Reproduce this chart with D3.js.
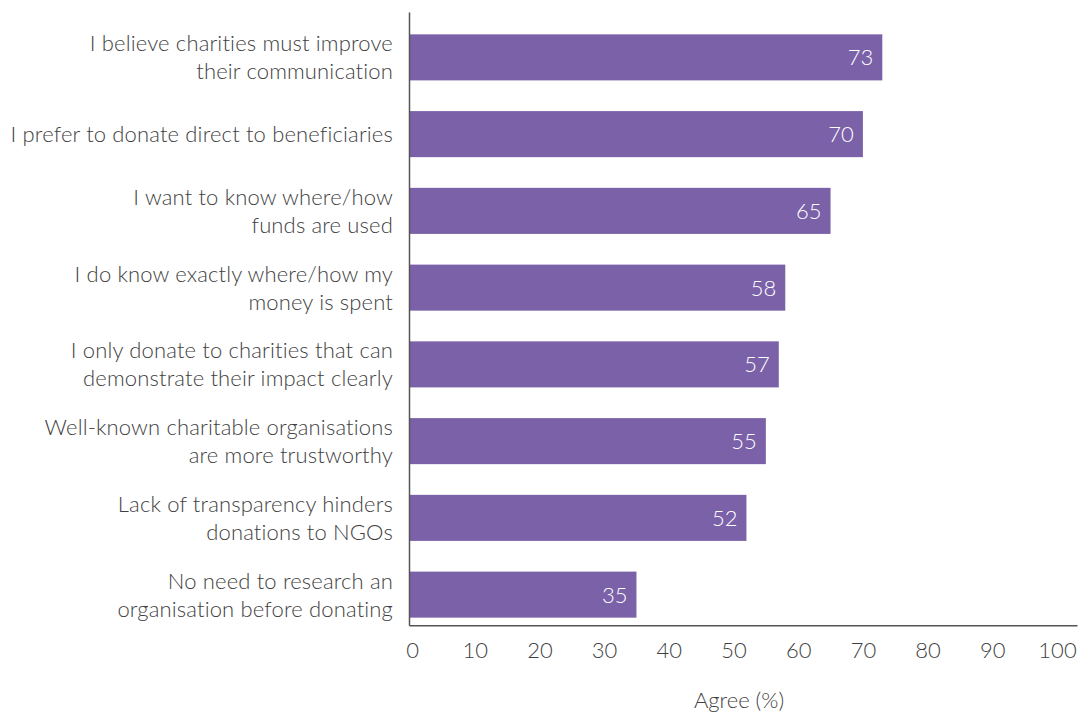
<!DOCTYPE html>
<html>
<head>
<meta charset="utf-8">
<script src="https://cdn.jsdelivr.net/npm/d3@7"></script>
<style>
  html, body { margin: 0; padding: 0; background: #fff; }
  svg text { font-family: Lato, "Open Sans", sans-serif; font-weight: 300; }
</style>
</head>
<body>
<svg id="chart" width="1085" height="713"></svg>
<script>
const categories = [
  "I believe charities must improve\ntheir communication",
  "I prefer to donate direct to beneficiaries",
  "I want to know where/how\nfunds are used",
  "I do know exactly where/how my\nmoney is spent",
  "I only donate to charities that can\ndemonstrate their impact clearly",
  "Well-known charitable organisations\nare more trustworthy",
  "Lack of transparency hinders\ndonations to NGOs",
  "No need to research an\norganisation before donating"
];
const values = [73, 70, 65, 58, 57, 55, 52, 35];
const xTicks = [0, 10, 20, 30, 40, 50, 60, 70, 80, 90, 100];
const xTitle = "Agree (%)";

const svg = d3.select("#chart");
const barColor = "#7b61a8";
const textColor = "#3f3f3f";
const axisColor = "#555";
const fontSize = 22;

const x = d3.scaleLinear().domain([0, 100]).range([410, 1057]);
const y = d3.scaleBand().domain(categories).range([19, 633]).paddingInner(0.4).paddingOuter(0.2);
const axisY = 625.7, axisTop = 12.5, axisRight = 1077.5;

// bars
svg.append("g").selectAll("rect").data(values).join("rect")
  .attr("x", x(0))
  .attr("y", (d, i) => y(categories[i]))
  .attr("width", d => x(d) - x(0))
  .attr("height", y.bandwidth())
  .attr("fill", barColor);

// value labels
svg.append("g").selectAll("text").data(values).join("text")
  .attr("x", d => x(d) - 9)
  .attr("y", (d, i) => y(categories[i]) + y.bandwidth() / 2 + 8)
  .attr("text-anchor", "end")
  .attr("fill", "#fff")
  .attr("font-size", fontSize)
  .text(d => d);

// category labels
const lineH = 28;
const lab = svg.append("g").selectAll("text").data(categories).join("text")
  .attr("text-anchor", "end")
  .attr("fill", textColor)
  .attr("font-size", fontSize)
  .attr("letter-spacing", 0.15);
lab.each(function(c) {
  const lines = c.split("\n");
  const cy = y(c) + y.bandwidth() / 2 + 8 - (lines.length - 1) * lineH / 2;
  d3.select(this).selectAll("tspan").data(lines).join("tspan")
    .attr("x", 393)
    .attr("y", (l, j) => cy + j * lineH)
    .text(l => l);
});

// x axis tick labels
const xAxis = d3.axisBottom(x).tickValues(xTicks).tickSize(0).tickFormat(d3.format("d"));
const gx = svg.append("g").attr("transform", `translate(0,${axisY})`).call(xAxis);
gx.select(".domain").remove();
gx.selectAll("text")
  .attr("y", 32.5).attr("dy", null)
  .attr("fill", textColor)
  .attr("font-size", fontSize)
  .style("font-family", "Lato, 'Open Sans', sans-serif")
  .style("font-weight", 300);
gx.selectAll(".tick").filter(d => d === 0).select("text").attr("x", 2);

// axis lines
svg.append("line").attr("x1", 409.5).attr("x2", axisRight).attr("y1", axisY).attr("y2", axisY)
  .attr("stroke", axisColor).attr("stroke-width", 1.5);
svg.append("line").attr("x1", 409.5).attr("x2", 409.5).attr("y1", axisTop).attr("y2", axisY)
  .attr("stroke", axisColor).attr("stroke-width", 1.5);

// axis title
svg.append("text")
  .attr("x", 739).attr("y", 708)
  .attr("text-anchor", "middle")
  .attr("fill", textColor)
  .attr("font-size", fontSize)
  .text(xTitle);
</script>
</body>
</html>
